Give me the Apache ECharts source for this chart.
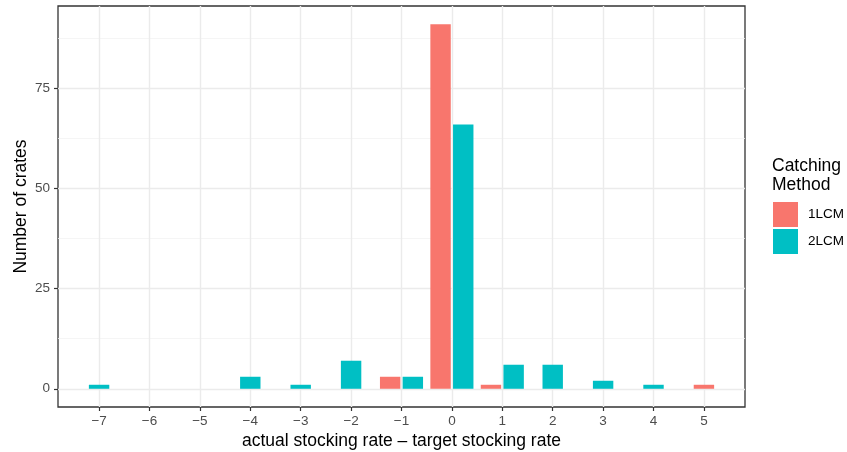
<!DOCTYPE html>
<html>
<head>
<meta charset="utf-8">
<script src="https://cdn.jsdelivr.net/npm/echarts@6/dist/echarts.min.js"></script>
<style>html,body{margin:0;padding:0;background:#fff}#c{width:847px;height:452px}</style>
</head>
<body>
<div id="c"></div>
<script>
// ---- data ----
const xValues = [-7, -6, -5, -4, -3, -2, -1, 0, 1, 2, 3, 4, 5];
const lcm1 = [0, 0, 0, 0, 0, 0, 3, 91, 1, 0, 0, 0, 1];
const lcm2 = [1, 0, 0, 3, 1, 7, 3, 66, 6, 6, 2, 1, 0];
const seriesNames = ['1LCM', '2LCM'];
const yTicks = [0, 25, 50, 75];
const yMinor = [12.5, 37.5, 62.5, 87.5];

const FONT = '"Liberation Sans", Arial, Helvetica, sans-serif';
const COLORS = ['#F8766D', '#00BFC4'];
const HALF = 0.2025;   // half bar width (data units)
const SHIFT = 0.225;   // dodge offset

function build(vals, other, side) {
  const out = [];
  vals.forEach((v, i) => {
    if (v > 0) {
      const off = other[i] > 0 ? side * SHIFT : 0;
      out.push([xValues[i], v, off]);
    }
  });
  return out;
}
const d1 = build(lcm1, lcm2, -1);
const d2 = build(lcm2, lcm1, 1);

function renderItem(params, api) {
  const x = api.value(0), y = api.value(1), off = api.value(2);
  const p0 = api.coord([x + off - HALF, y]);
  const p1 = api.coord([x + off + HALF, 0]);
  return {
    type: 'rect',
    shape: { x: p0[0], y: p0[1], width: p1[0] - p0[0], height: p1[1] - p0[1] },
    style: { fill: api.visual('color') }
  };
}

const minus = v => String(v).replace('-', '\u2212');

const chart = echarts.init(document.getElementById('c'), null, { renderer: 'canvas' });
chart.setOption({
  animation: false,
  backgroundColor: '#fff',
  textStyle: { fontFamily: FONT },
  title: {
    text: 'Catching\nMethod',
    left: 772, top: 156,
    textStyle: { fontFamily: FONT, fontSize: 17.5, fontWeight: 'normal', color: '#000', lineHeight: 19.5 },
    padding: 0
  },
  legend: {
    orient: 'vertical',
    left: 773, top: 202,
    itemWidth: 25, itemHeight: 25, itemGap: 2,
    padding: 0,
    icon: 'rect',
    textStyle: { fontFamily: FONT, fontSize: 13.5, color: '#000', padding: [0, 0, 0, 5] },
    data: seriesNames
  },
  grid: {
    left: 58, right: 102, top: 6, bottom: 45,
    show: true, borderColor: '#333333', borderWidth: 1.3, backgroundColor: 'transparent',
    containLabel: false,
    outerBoundsMode: 'none'
  },
  xAxis: {
    type: 'value',
    min: -7.815, max: 5.815,
    name: 'actual stocking rate \u2013 target stocking rate',
    nameLocation: 'middle', nameGap: 25,
    nameMoveOverlap: false,
    nameTextStyle: { fontFamily: FONT, fontSize: 17.5, color: '#000' },
    axisLine: { show: false, onZero: false },
    axisTick: { show: true, inside: false, length: 4, lineStyle: { color: '#333333', width: 1.2 }, customValues: xValues },
    axisLabel: { customValues: xValues, formatter: minus, fontFamily: FONT, fontSize: 13.5, color: '#4D4D4D', margin: 7 },
    splitLine: { show: true, lineStyle: { color: '#EBEBEB', width: 1.4 } }
  },
  yAxis: [{
    type: 'value',
    min: -4.55, max: 95.55,
    name: 'Number of crates',
    nameLocation: 'middle', nameGap: 28,
    nameMoveOverlap: false,
    nameTextStyle: { fontFamily: FONT, fontSize: 17.5, color: '#000' },
    axisLine: { show: false, onZero: false },
    axisTick: { show: true, inside: false, length: 4, lineStyle: { color: '#333333', width: 1.2 }, customValues: yTicks },
    axisLabel: { customValues: yTicks, fontFamily: FONT, fontSize: 13.5, color: '#4D4D4D', margin: 8 },
    splitLine: { show: true, lineStyle: { color: '#EBEBEB', width: 1.4 } }
  }, {
    type: 'value',
    min: -4.55, max: 95.55,
    position: 'left',
    axisLine: { show: false, onZero: false },
    axisTick: { show: false, customValues: yMinor },
    axisLabel: { show: false, customValues: yMinor },
    splitLine: { show: true, lineStyle: { color: '#F2F2F2', width: 0.8 } },
    z: 0
  }],
  series: [
    { name: seriesNames[0], type: 'custom', renderItem, data: d1, encode: { x: 0, y: 1 }, itemStyle: { color: COLORS[0] }, z: 5 },
    { name: seriesNames[1], type: 'custom', renderItem, data: d2, encode: { x: 0, y: 1 }, itemStyle: { color: COLORS[1] }, z: 5 }
  ]
});
</script>
</body>
</html>
